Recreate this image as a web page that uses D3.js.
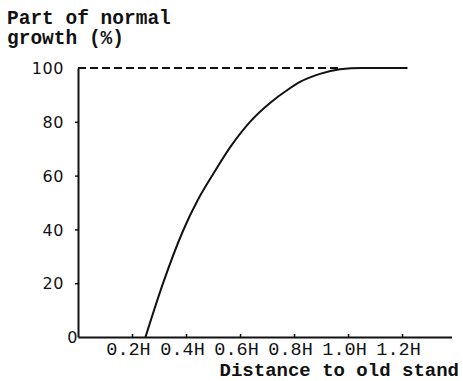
<!DOCTYPE html>
<html><head><meta charset="utf-8">
<script src="https://cdn.jsdelivr.net/npm/d3@7"></script>
<style>
body{margin:0;background:#fff;}
svg{display:block;}
</style></head>
<body>
<svg id="c" width="463" height="381"></svg>
<script>
const distance = [0.25, 0.315, 0.389, 0.444, 0.5, 0.563, 0.637, 0.711, 0.778, 0.822, 0.896, 0.97, 1.05, 1.22];
const growth   = [0,    20,    39.5,  51,    60.5, 70.5, 80,    87,    92,    94.8,  97.8,  99.5, 100,  100];
const referenceLevel = [[0, 100], [0.97, 100]];
const xTicks = [0.2, 0.4, 0.6, 0.8, 1.0, 1.2];
const xTickLabels = ["0.2H", "0.4H", "0.6H", "0.8H", "1.0H", "1.2H"];
const yTicks = [0, 20, 40, 60, 80, 100];
const yTitle = ["Part of normal", "growth (%)"];
const xTitle = "Distance to old stand";

const svg = d3.select("#c");
const x = d3.scaleLinear().domain([0, 1.383]).range([78, 451.5]);
const y = d3.scaleLinear().domain([0, 100]).range([337, 68]);
const ink = "#111";

// y axis
const gy = svg.append("g").attr("transform", `translate(${x(0)},0)`)
  .call(d3.axisLeft(y).tickValues(yTicks).tickSize(3).tickSizeOuter(0).tickFormat(d => d));
gy.select(".domain").attr("stroke", ink).attr("stroke-width", 2);
gy.selectAll(".tick line").attr("stroke", ink).attr("stroke-width", 1.5);
gy.selectAll(".tick text")
  .attr("font-family", "DejaVu Sans").attr("font-size", 16).attr("fill", ink)
  .attr("letter-spacing", 0.6)
  .attr("x", d => d === 0 ? 0 : -14)
  .attr("dy", "0.35em");
gy.selectAll(".tick").filter(d => d === 0 || d === 100).select("line").remove();

// x axis
const gx = svg.append("g").attr("transform", `translate(0,${y(0)})`)
  .call(d3.axisBottom(x).tickValues(xTicks).tickSize(-3).tickSizeOuter(0)
    .tickFormat((d, i) => xTickLabels[i]));
gx.select(".domain").attr("stroke", ink).attr("stroke-width", 2);
gx.selectAll(".tick line").attr("stroke", ink).attr("stroke-width", 1.5);
gx.selectAll(".tick text")
  .attr("font-family", "Liberation Mono").attr("font-size", 18.5).attr("fill", ink)
  .attr("dx", -4).attr("y", 18).attr("dy", 0);

// dashed reference line
svg.append("path")
  .datum(referenceLevel)
  .attr("d", d3.line().x(d => x(d[0])).y(d => y(d[1])))
  .attr("fill", "none").attr("stroke", ink).attr("stroke-width", 2.2)
  .attr("stroke-dasharray", "8,4");

// curve
const pts = distance.map((d, i) => [d, growth[i]]);
svg.append("path")
  .datum(pts)
  .attr("d", d3.line().x(d => x(d[0])).y(d => y(d[1])).curve(d3.curveMonotoneX))
  .attr("fill", "none").attr("stroke", ink).attr("stroke-width", 2);

// titles
svg.append("g").selectAll("text").data(yTitle).join("text")
  .attr("x", 7).attr("y", (d, i) => 24 + i * 20)
  .attr("font-family", "Liberation Mono").attr("font-weight", "bold")
  .attr("font-size", 19.5).attr("fill", ink)
  .attr("xml:space", "preserve").text(d => d);

svg.append("text")
  .attr("x", 459).attr("y", 376).attr("text-anchor", "end")
  .attr("font-family", "Liberation Mono").attr("font-weight", "bold")
  .attr("font-size", 19).attr("fill", ink).text(xTitle);
</script>
</body></html>
